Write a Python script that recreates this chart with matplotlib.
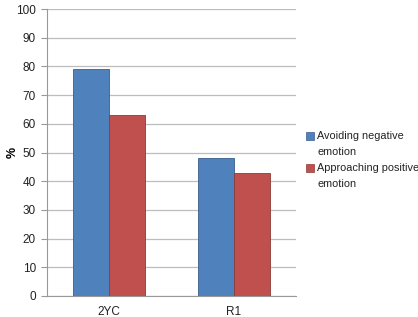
import matplotlib.pyplot as plt
from matplotlib.patches import Rectangle
import numpy as np

categories = ['2YC', 'R1']
avoiding = [79, 48]
approaching = [63, 43]
series_labels = ['Avoiding negative\nemotion', 'Approaching positive\nemotion']
colors = ['#4F81BD', '#C0504D']
edges = ['#3a5f8c', '#8c3a38']
yticks = [0, 10, 20, 30, 40, 50, 60, 70, 80, 90, 100]

plt.rcParams['font.family'] = ['Liberation Sans', 'DejaVu Sans']

W, H = 418, 317
fig = plt.figure(figsize=(W / 100, H / 100), dpi=100)
ax = fig.add_axes([47 / W, 21 / H, 249 / W, 287 / H])

x = np.arange(len(categories))
w = 0.29
ax.bar(x - w / 2, avoiding, w, color=colors[0], edgecolor=edges[0], linewidth=0.6, zorder=3)
ax.bar(x + w / 2, approaching, w, color=colors[1], edgecolor=edges[1], linewidth=0.6, zorder=3)

ax.set_xlim(-0.5, 1.5)
ax.set_ylim(0, 100)
ax.set_yticks(yticks)
ax.set_xticks(x)
ax.set_xticklabels(categories)
ax.tick_params(axis='both', labelsize=8.5, colors='#222222')
ax.tick_params(axis='y', length=4, color='#999999', pad=4)
ax.tick_params(axis='x', length=0, pad=7)
ax.yaxis.grid(True, color='#bdbdbd', linewidth=0.9, zorder=0)
for s in ['top', 'right']:
    ax.spines[s].set_visible(False)
ax.spines['left'].set_color('#999999')
ax.spines['bottom'].set_color('#999999')
ax.set_ylabel('%', fontsize=9, fontweight='bold')
ax.yaxis.set_label_coords((19 - 47) / 249, 0.5)

# legend drawn by hand so the two-line labels get the wide line spacing
for i, lab in enumerate(series_labels):
    yc = 136 + 32 * i
    fig.add_artist(Rectangle((306 / W, 1 - (yc + 4) / H), 8 / W, 8 / H,
                             transform=fig.transFigure, facecolor=colors[i],
                             edgecolor=edges[i], linewidth=0.5))
    for j, line in enumerate(lab.split('\n')):
        fig.text(317 / W, 1 - (yc + 16 * j) / H, line, fontsize=7.8,
                 va='center', ha='left', color='#222222')

fig.savefig('out.png', dpi=100)
